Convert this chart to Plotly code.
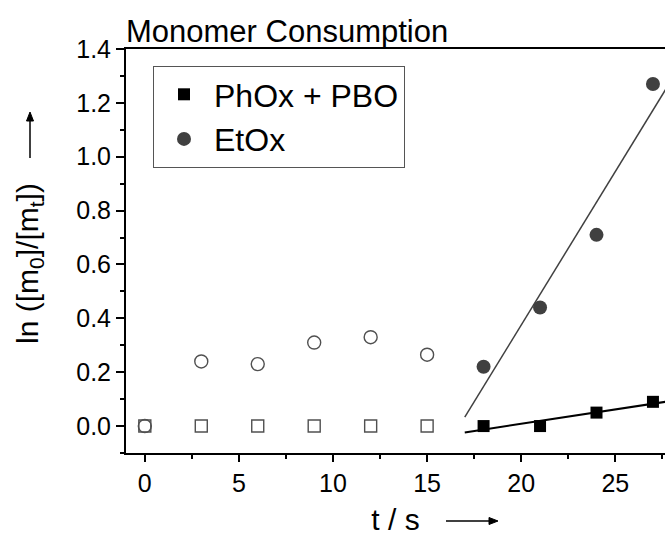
import numpy as np
import plotly.graph_objects as go

# ---- data ----
t_early = [0, 3, 6, 9, 12, 15]
t_late = [18, 21, 24, 27]
phox_early = [0.0, 0.0, 0.0, 0.0, 0.0, 0.0]
phox_late = [0.0, 0.0, 0.05, 0.09]
etox_early = [0.0, 0.24, 0.23, 0.31, 0.33, 0.265]
etox_late = [0.22, 0.44, 0.71, 1.27]
fit_t = [17, 28]
x_tickvals = [0, 5, 10, 15, 20, 25]
y_tickvals = [0.0, 0.2, 0.4, 0.6, 0.8, 1.0, 1.2, 1.4]
y_ticktext = ["0.0", "0.2", "0.4", "0.6", "0.8", "1.0", "1.2", "1.4"]

FONT = "Liberation Sans, Arial, sans-serif"

p_ph = np.polyfit(t_late, phox_late, 1)
p_et = np.polyfit(t_late, etox_late, 1)
fit_ph = list(np.polyval(p_ph, fit_t))
fit_et = list(np.polyval(p_et, fit_t))

fig = go.Figure()
fig.add_trace(go.Scatter(x=fit_t, y=fit_et, mode="lines",
                         line=dict(color="#404040", width=1.5), showlegend=False))
fig.add_trace(go.Scatter(x=fit_t, y=fit_ph, mode="lines",
                         line=dict(color="#000000", width=2), showlegend=False))
fig.add_trace(go.Scatter(x=t_early, y=phox_early, mode="markers",
                         marker=dict(symbol="square-open", size=12, color="#505050",
                                     line=dict(width=1.4, color="#505050")),
                         showlegend=False))
fig.add_trace(go.Scatter(x=t_early, y=etox_early, mode="markers",
                         marker=dict(symbol="circle-open", size=13, color="#505050",
                                     line=dict(width=1.4, color="#505050")),
                         showlegend=False))
fig.add_trace(go.Scatter(x=t_late, y=phox_late, mode="markers", name="PhOx + PBO",
                         marker=dict(symbol="square", size=12, color="#000000")))
fig.add_trace(go.Scatter(x=t_late, y=etox_late, mode="markers", name="EtOx",
                         marker=dict(symbol="circle", size=14, color="#404040")))

W, H = 665, 536
L, R, T, B = 126, 0, 49, 83
pw, ph = W - L - R, H - T - B

def px(xp):
    return (xp - L) / pw

def py(yp):
    return (H - B - yp) / ph

fig.update_layout(
    width=W, height=H,
    margin=dict(l=L, r=R, t=T, b=B, pad=0),
    paper_bgcolor="white", plot_bgcolor="white",
    font=dict(family=FONT, color="black"),
    title=dict(text="Monomer Consumption", font=dict(size=31, family=FONT, color="black"),
               xref="paper", x=0, xanchor="left", yref="paper", y=1, yanchor="bottom",
               pad=dict(b=7, l=0)),
    legend=dict(x=px(153), y=py(66), xanchor="left", yanchor="top",
                bordercolor="#555555", borderwidth=1, bgcolor="white",
                font=dict(size=32, family=FONT, color="black"),
                itemsizing="trace", itemwidth=50, tracegroupgap=0),
    showlegend=True,
)

fig.update_xaxes(
    range=[-1, 27.64], showgrid=False, zeroline=False,
    showline=True, linecolor="black", linewidth=2, mirror=True,
    ticks="outside", ticklen=7, tickwidth=2, tickcolor="black",
    tickvals=x_tickvals, tickfont=dict(size=25, family=FONT, color="black"),
    minor=dict(ticks="outside", ticklen=4, tickwidth=2, tickcolor="black", dtick=2.5, tick0=0),
    title=dict(text="t / s", font=dict(size=30, family=FONT, color="black"), standoff=16),
)
fig.update_yaxes(
    range=[-0.1, 1.4], showgrid=False, zeroline=False,
    showline=True, linecolor="black", linewidth=2, mirror=False,
    ticks="outside", ticklen=8, tickwidth=2, tickcolor="black",
    tickvals=y_tickvals, ticktext=y_ticktext,
    tickfont=dict(size=25, family=FONT, color="black"),
    minor=dict(ticks="outside", ticklen=4, tickwidth=2, tickcolor="black", dtick=0.1, tick0=0),
    title=dict(text="ln ([m<sub>0</sub>]/[m<sub>t</sub>])&nbsp;&nbsp;&nbsp;",
               font=dict(size=30, family=FONT, color="black"), standoff=29),
)

# arrows next to axis titles, drawn as shapes
def arrow(x0, y0, x1, y1, head=9, half=3.5):
    # pixel coordinates: tail (x0,y0) -> tip (x1,y1)
    dx, dy = x1 - x0, y1 - y0
    n = (dx * dx + dy * dy) ** 0.5
    ux, uy = dx / n, dy / n
    bx, by = x1 - ux * head, y1 - uy * head
    fig.add_shape(type="line", xref="paper", yref="paper",
                  x0=px(x0), y0=py(y0), x1=px(bx), y1=py(by),
                  line=dict(color="black", width=1.5))
    nx, ny = -uy, ux
    pts = [(x1, y1), (bx + nx * half, by + ny * half), (bx - nx * half, by - ny * half)]
    path = "M {} {} L {} {} L {} {} Z".format(*[v for p in pts for v in (px(p[0]), py(p[1]))])
    fig.add_shape(type="path", xref="paper", yref="paper", path=path,
                  fillcolor="black", line=dict(color="black", width=1))

arrow(30, 158, 30, 112)
arrow(446, 521, 498, 521)

fig.write_html("out.html")
